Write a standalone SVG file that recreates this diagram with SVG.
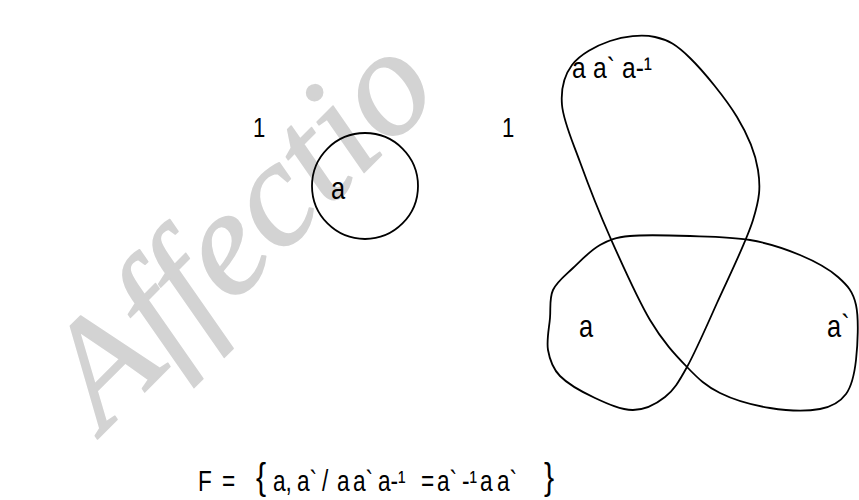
<svg xmlns="http://www.w3.org/2000/svg" width="859" height="500" viewBox="0 0 859 500">
<style>
.ln{fill:none;stroke:#000;stroke-width:1.8;stroke-linejoin:round}
.t{font-family:"Liberation Sans",Arial,sans-serif;fill:#000}
.wm{font-family:"Liberation Serif","Times New Roman",serif;font-style:italic;fill:#d3d3d3;stroke:#d3d3d3;stroke-width:1.5;stroke-linejoin:round}
</style>
<rect width="859" height="500" fill="#fff"/>
<g id="watermark">
<text class="wm" x="245" y="275" font-size="150" text-anchor="middle" textLength="480" lengthAdjust="spacingAndGlyphs" transform="rotate(-45 245 235)">Affectio</text>
</g>
<g id="connectors"></g>
<g id="node-circle">
<circle class="ln" cx="365" cy="186" r="53"/>
<text class="t" font-size="27" transform="translate(253 137) scale(0.82 1)">1</text>
<text class="t" font-size="31" transform="translate(331 199) scale(0.82 1)">a</text>
</g>
<g id="node-knot">
<path class="ln" d="M553,290 C556.83,281.67 565.17,275.5 573,268 C580.83,260.5 590.5,250.33 600,245 C609.5,239.67 615,237.5 630,236 C645,234.5 670,235.33 690,236 C710,236.67 731.67,236.83 750,240 C768.33,243.17 785.33,248.83 800,255 C814.67,261.17 828.67,268.67 838,277 C847.33,285.33 853,291.17 856,305 C859,318.83 857.67,345.17 856,360 C854.33,374.83 852,385.83 846,394 C840,402.17 832.67,406.67 820,409 C807.33,411.33 786.67,410.67 770,408 C753.33,405.33 733.83,399.83 720,393 C706.17,386.17 698.67,379.17 687,367 C675.33,354.83 662.83,341.67 650,320 C637.17,298.33 621.67,263.33 610,237 C598.33,210.67 588,184 580,162 C572,140 563.33,121.17 562,105 C560.67,88.83 564,75.67 572,65 C580,54.33 596.17,45.67 610,41 C623.83,36.33 641.67,34.17 655,37 C668.33,39.83 676.33,44.67 690,58 C703.67,71.33 725.67,98.33 737,117 C748.33,135.67 755.33,152.83 758,170 C760.67,187.17 759.83,197.83 753,220 C746.17,242.17 728,278.5 717,303 C706,327.5 695.67,351.33 687,367 C678.33,382.67 674,389.83 665,397 C656,404.17 644.67,409.83 633,410 C621.33,410.17 607.17,403.67 595,398 C582.83,392.33 567.83,384 560,376 C552.17,368 549.67,359.67 548,350 C546.33,340.33 549.17,328 550,318 C550.83,308 549.17,298.33 553,290 Z"/>
<text class="t" font-size="27" transform="translate(502 137) scale(0.82 1)">1</text>
<text class="t" font-size="30" transform="translate(572 78) scale(0.82 1)"><tspan x="0">a</tspan><tspan x="25.6">a`</tspan><tspan x="61">a-¹</tspan></text>
<text class="t" font-size="31" transform="translate(579 337) scale(0.82 1)">a</text>
<text class="t" font-size="31" transform="translate(827 337) scale(0.82 1)">a`</text>
</g>
<g id="formula">
<text class="t" font-size="29" transform="translate(0 491) scale(0.78 1)"><tspan x="253.8">F</tspan><tspan x="284.6">=</tspan><tspan x="350">a,</tspan><tspan x="380.8">a`</tspan><tspan x="412.8">/</tspan><tspan x="432">a</tspan><tspan x="452.6">a`</tspan><tspan x="484.6">a-¹</tspan><tspan x="539.7">=</tspan><tspan x="560.3">a`</tspan><tspan x="592.3">-¹</tspan><tspan x="615.4">a</tspan><tspan x="637.2">a`</tspan></text>
<text class="t" font-size="37" transform="translate(256 489) scale(0.82 1)">{</text>
<text class="t" font-size="37" transform="translate(544 489) scale(0.82 1)">}</text>
</g>
</svg>
